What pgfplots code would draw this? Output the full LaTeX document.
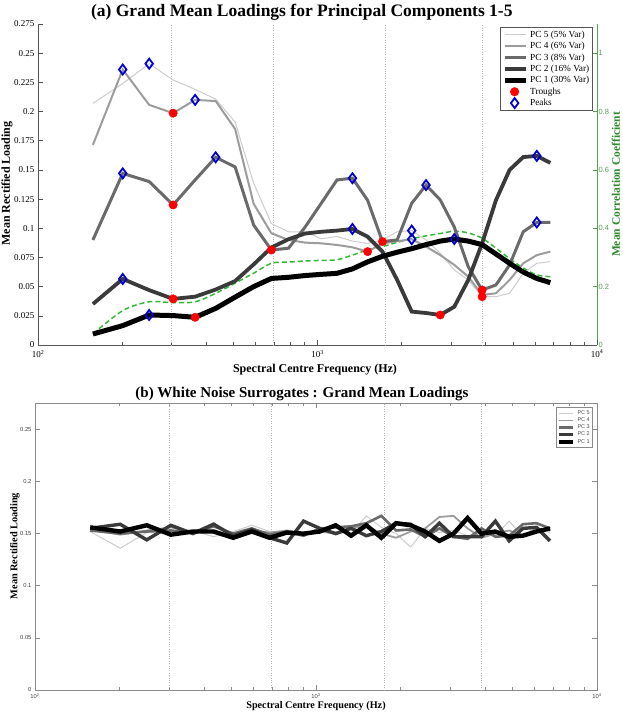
\documentclass[border=0pt]{standalone}
\usepackage{pgfplots}
\pgfplotsset{compat=1.18}
\usepackage{pgfplotstable}
\usepackage{fontspec}
\setmainfont{Liberation Serif}
\setsansfont{Liberation Sans}

\definecolor{cPCfive}{HTML}{CCCCCC}
\definecolor{cPCfour}{HTML}{9C9C9C}
\definecolor{cPCthree}{HTML}{6A6A6A}
\definecolor{cPCtwo}{HTML}{3A3A3A}
\definecolor{cPCone}{HTML}{000000}
\definecolor{cGreen}{HTML}{33B833}
\definecolor{cAxGreen}{HTML}{55A055}
\definecolor{cLabGreen}{HTML}{2A8A2A}
\definecolor{cRed}{HTML}{FF0000}
\definecolor{cBlue}{HTML}{0000D0}
\definecolor{cAx}{HTML}{555555}
\definecolor{cAxB}{HTML}{8A8A8A}

% top panel: f, PC1..PC5 loadings, correlation coefficient
\pgfplotstableread{
f      pcone  pctwo  pcthree pcfour pcfive corr
157.2  0.0094 0.0351 0.090   0.1714 0.207  0.038
201.0  0.0166 0.0566 0.147   0.236  0.224  0.118
249.9  0.0257 0.047  0.140   0.2057 0.241  0.148
304.4  0.0252 0.0395 0.120   0.1986 0.227  0.145
364.9  0.0237 0.0414 0.1414  0.210  0.219  0.148
432.3  0.0314 0.0475 0.1608  0.209  0.2106 0.177
507.3  0.041  0.0548 0.1525  0.185  0.191  0.212
590.9  0.050  0.069  0.1028  0.121  0.1386 0.246
683.9  0.057  0.0835 0.0814  0.0957 0.104  0.280
787.5  0.058  0.0906 0.0829  0.090  0.097  0.284
902.8  0.0595 0.0955 0.101   0.0877 0.097  0.288
1031.2 0.0605 0.097  0.1214  0.0871 0.091  0.290
1174.2 0.0614 0.098  0.1414  0.0857 0.093  0.292
1333.5 0.0652 0.0994 0.1429  0.0837 0.089  0.308
1510.8 0.0712 0.0928 0.124   0.080  0.087  0.326
1708.2 0.076  0.080  0.0886  0.087  0.090  0.337
1927.9 0.0795 0.0557 0.090   0.089  0.097  0.352
2173.0 0.0825 0.0286 0.1214  0.0906 0.098  0.364
2445.3 0.086  0.0274 0.137   0.0843 0.090  0.374
2748.8 0.089  0.0257 0.1243  0.077  0.0786 0.382
3086.7 0.0908 0.0328 0.101   0.0686 0.0643 0.390
3463.0 0.089  0.0557 0.067   0.0585 0.0557 0.384
3882.0 0.086  0.0871 0.0471  0.0429 0.0414 0.366
4348.5 0.078  0.124  0.0514  0.0443 0.0414 0.332
4868.0 0.070  0.150  0.0686  0.0557 0.0443 0.296
5446.0 0.0625 0.161  0.097   0.070  0.0614 0.264
6090.0 0.057  0.162  0.105   0.077  0.070  0.240
6807.0 0.0534 0.156  0.105   0.080  0.0714 0.234
}\topdata

\pgfplotstableread{
f      v
304.4  0.1986
304.4  0.120
304.4  0.0395
364.9  0.0237
683.9  0.0814
1510.8 0.080
1708.2 0.0886
2748.8 0.0257
3882.0 0.0471
3882.0 0.0414
}\troughs

\pgfplotstableread{
f      v
201.0  0.236
249.9  0.241
364.9  0.210
201.0  0.147
432.3  0.1608
201.0  0.0566
249.9  0.0257
1333.5 0.1429
1333.5 0.0994
2445.3 0.137
2173.0 0.098
2173.0 0.0906
3086.7 0.0908
6090.0 0.162
6090.0 0.105
}\peaks

% bottom panel: white noise surrogates
\pgfplotstableread{
f      pcone pctwo pcthree pcfour pcfive
157.2  0.156 0.155 0.153 0.154 0.152
201.0  0.152 0.159 0.150 0.149 0.136
249.9  0.158 0.144 0.152 0.153 0.151
304.4  0.149 0.158 0.153 0.156 0.150
364.9  0.152 0.150 0.151 0.151 0.153
432.3  0.152 0.159 0.157 0.160 0.147
507.3  0.146 0.148 0.150 0.146 0.152
590.9  0.152 0.154 0.155 0.153 0.158
683.9  0.146 0.146 0.149 0.151 0.152
787.5  0.151 0.141 0.152 0.153 0.151
902.8  0.150 0.162 0.148 0.150 0.147
1031.2 0.152 0.155 0.155 0.152 0.154
1174.2 0.158 0.150 0.156 0.150 0.152
1333.5 0.148 0.155 0.157 0.155 0.150
1510.8 0.158 0.148 0.160 0.158 0.167
1708.2 0.146 0.152 0.167 0.150 0.156
1927.9 0.160 0.160 0.153 0.146 0.150
2173.0 0.158 0.159 0.154 0.152 0.137
2445.3 0.152 0.147 0.147 0.155 0.155
2748.8 0.143 0.160 0.155 0.166 0.151
3086.7 0.150 0.147 0.147 0.167 0.153
3463.0 0.165 0.147 0.145 0.155 0.148
3882.0 0.150 0.147 0.155 0.146 0.151
4348.5 0.152 0.162 0.147 0.150 0.148
4868.0 0.147 0.143 0.148 0.153 0.162
5446.0 0.148 0.155 0.159 0.148 0.147
6090.0 0.152 0.156 0.160 0.155 0.154
6807.0 0.155 0.143 0.155 0.153 0.151
}\botdata

\pgfplotsset{
  linelegend/.style={legend image code/.code={\draw[##1] (0pt,0pt) -- (#1,0pt);}},
  marklegend/.style={legend image code/.code={\draw[##1] plot coordinates {(#1,0pt)};}},
}

\begin{document}
\begin{tikzpicture}[x=1pt,y=1pt]
\path[use as bounding box] (0,0) rectangle (622,715);

% ---------- top panel: right (green) axis ----------
\begin{axis}[
  at={(38pt,370pt)}, anchor=south west, scale only axis,
  width=559pt, height=321pt,
  xmode=log, xmin=100, xmax=10000, ymin=0, ymax=1.1,
  axis x line=none, axis y line*=right,
  y axis line style={cAxGreen, line width=0.7pt},
  ytick={0,0.2,0.4,0.6,0.8,1}, yticklabels={0,0.2,0.4,0.6,0.8,1},
  ytick style={cAxGreen, line width=0.6pt},
  major tick length=4pt,
  yticklabel style={font=\sffamily\fontsize{7.5}{8}\selectfont, text=cAxGreen, xshift=-2pt},
  ylabel={Mean Correlation Coefficient},
  ylabel style={font=\bfseries\fontsize{11.5}{12}\selectfont, text=cLabGreen,
    at={(axis description cs:1.02,0.5)}, anchor=north, rotate=0},
]
\addplot[cGreen, line width=1.5pt, dash pattern=on 5pt off 3pt, smooth]
  table[x=f, y=corr] {\topdata};
\end{axis}

% ---------- top panel: main axis ----------
\begin{axis}[
  at={(38pt,370pt)}, anchor=south west, scale only axis,
  width=559pt, height=321pt,
  xmode=log, xmin=100, xmax=10000, ymin=0, ymax=0.275,
  axis x line*=bottom, axis y line*=left,
  axis line style={cAx, line width=0.7pt},
  tick style={cAx, line width=0.6pt},
  major tick length=5pt, minor tick length=3pt,
  xtick={100,1000,10000},
  xticklabels={10\textsuperscript{2},10\textsuperscript{3},10\textsuperscript{4}},
  xticklabel style={yshift=-1.5pt},
  minor xtick={200,300,400,500,600,700,800,900,2000,3000,4000,5000,6000,7000,8000,9000},
  ytick={0,0.025,0.05,0.075,0.1,0.125,0.15,0.175,0.2,0.225,0.25,0.275},
  yticklabels={0,0.025,0.05,0.075,0.1,0.125,0.15,0.175,0.2,0.225,0.25,0.275},
  tick label style={font=\fontsize{9}{10}\selectfont},
  extra x ticks={300,695,1745,3880}, extra x tick labels={},
  extra x tick style={grid=major, major tick length=0pt},
  major grid style={dotted, gray!60, line width=0.6pt},
  title={(a) Grand Mean Loadings for Principal Components 1-5},
  title style={font=\bfseries\fontsize{17.5}{19}\selectfont,
    at={(axis description cs:0.472,1)}, anchor=base, yshift=1pt},
  xlabel={Spectral Centre Frequency (Hz)},
  xlabel style={font=\bfseries\fontsize{12}{13}\selectfont,
    at={(axis description cs:0.4955,-0.078)}, anchor=center},
  ylabel={Mean Rectified Loading},
  ylabel style={font=\bfseries\fontsize{12}{13}\selectfont,
    at={(axis description cs:-0.0555,0.503)}, anchor=center},
  legend style={at={(axis description cs:0.993,0.99)}, anchor=north east,
    draw=cAx, line width=0.6pt, fill=white, inner sep=1.5pt,
    font=\fontsize{9.3}{10}\selectfont, row sep=-0.6pt},
  legend cell align=left,
]
\addplot[cPCfive, line width=1pt, linelegend=21pt] table[x=f, y=pcfive] {\topdata};
\addlegendentry{PC 5 (5\% Var)}
\addplot[cPCfour, line width=2pt, linelegend=21pt] table[x=f, y=pcfour] {\topdata};
\addlegendentry{PC 4 (6\% Var)}
\addplot[cPCthree, line width=3pt, linelegend=21pt] table[x=f, y=pcthree] {\topdata};
\addlegendentry{PC 3 (8\% Var)}
\addplot[cPCtwo, line width=3.8pt, linelegend=21pt] table[x=f, y=pctwo] {\topdata};
\addlegendentry{PC 2 (16\% Var)}
\addplot[cPCone, line width=5pt, linelegend=21pt] table[x=f, y=pcone] {\topdata};
\addlegendentry{PC 1 (30\% Var)}
\addplot[only marks, mark=*, mark size=4.2pt, color=cRed, fill=cRed, marklegend=10pt]
  table[x=f, y=v] {\troughs};
\addlegendentry{Troughs}
\addplot[only marks, mark=diamond, mark size=5pt, color=cBlue, line width=1.8pt, marklegend=10pt]
  table[x=f, y=v] {\peaks};
\addlegendentry{Peaks}
\end{axis}

% ---------- bottom panel ----------
\begin{axis}[
  at={(35pt,25pt)}, anchor=south west, scale only axis,
  width=562pt, height=286.7pt,
  xmode=log, xmin=100, xmax=10000, ymin=0, ymax=0.275,
  axis line style={cAxB, line width=0.8pt},
  tick style={cAxB, line width=0.6pt},
  major tick length=5pt, minor tick length=3pt,
  xtick={100,1000,10000},
  xticklabels={10\textsuperscript{2},10\textsuperscript{3},10\textsuperscript{4}},
  minor xtick={200,300,400,500,600,700,800,900,2000,3000,4000,5000,6000,7000,8000,9000},
  ytick={0,0.05,0.1,0.15,0.2,0.25},
  yticklabels={0,0.05,0.1,0.15,0.2,0.25},
  tick label style={font=\sffamily\fontsize{5.8}{6}\selectfont, text=black!75},
  extra x ticks={300,695,1745,3880}, extra x tick labels={},
  extra x tick style={grid=major, major tick length=0pt},
  major grid style={dotted, gray!60, line width=0.6pt},
  title={(b) White Noise Surrogates : Grand Mean Loadings},
  title style={font=\bfseries\fontsize{15}{16}\selectfont,
    at={(axis description cs:0.475,1)}, anchor=base, yshift=0pt},
  xlabel={Spectral Centre Frequency (Hz)},
  xlabel style={font=\bfseries\fontsize{10.2}{11}\selectfont,
    at={(axis description cs:0.5,-0.055)}, anchor=center},
  ylabel={Mean Rectified Loading},
  ylabel style={font=\bfseries\fontsize{10.3}{11}\selectfont,
    at={(axis description cs:-0.036,0.502)}, anchor=center},
  legend style={at={(axis description cs:0.993,0.986)}, anchor=north east,
    draw=cAxB, line width=0.6pt, fill=white, inner sep=1pt,
    font=\sffamily\fontsize{5.5}{6}\selectfont, row sep=-2.2pt, text=black!70},
  legend cell align=left,
]
\addplot[cPCfive, line width=1pt, linelegend=14pt] table[x=f, y=pcfive] {\botdata};
\addlegendentry{PC 5}
\addplot[cPCfour, line width=1.8pt, linelegend=14pt] table[x=f, y=pcfour] {\botdata};
\addlegendentry{PC 4}
\addplot[cPCthree, line width=2.6pt, linelegend=14pt] table[x=f, y=pcthree] {\botdata};
\addlegendentry{PC 3}
\addplot[cPCtwo, line width=3.4pt, linelegend=14pt] table[x=f, y=pctwo] {\botdata};
\addlegendentry{PC 2}
\addplot[cPCone, line width=4.4pt, linelegend=14pt] table[x=f, y=pcone] {\botdata};
\addlegendentry{PC 1}
\end{axis}
\end{tikzpicture}
\end{document}
